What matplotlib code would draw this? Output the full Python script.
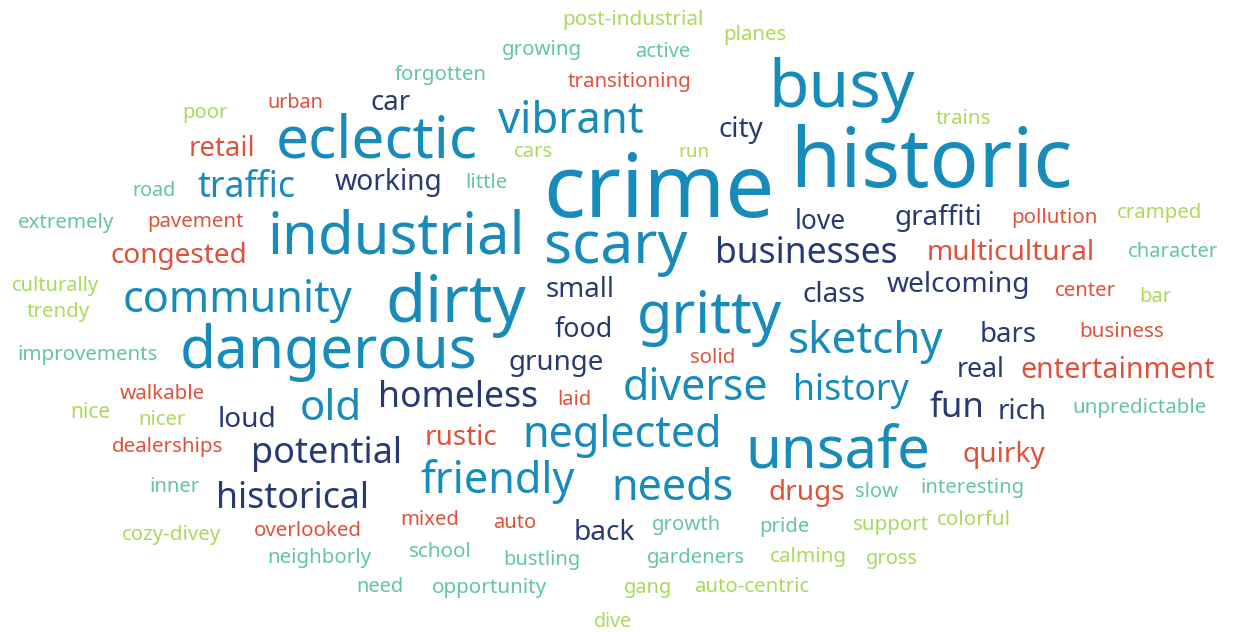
import matplotlib
matplotlib.use("Agg")
import matplotlib.pyplot as plt

plt.rcParams['font.family'] = ['Noto Sans', 'DejaVu Sans']

# words and their colour group
words = [
    "post-industrial", "planes", "growing", "active", "forgotten", "transitioning", "busy",
    "poor", "urban", "car", "trains", "vibrant", "eclectic", "retail", "city", "historic",
    "cars", "run", "crime", "road", "traffic", "working", "little", "extremely", "pavement",
    "industrial", "scary", "love", "graffiti", "pollution", "cramped", "congested",
    "businesses", "multicultural", "character", "culturally", "community", "dirty", "small",
    "gritty", "class", "welcoming", "center", "bar", "trendy", "dangerous", "food", "sketchy",
    "bars", "business", "improvements", "grunge", "solid", "real", "entertainment",
    "walkable", "old", "homeless", "laid", "diverse", "history", "fun", "rich",
    "unpredictable", "nice", "nicer", "loud", "dealerships", "potential", "rustic",
    "neglected", "unsafe", "quirky", "inner", "historical", "friendly", "needs", "drugs",
    "slow", "interesting", "cozy-divey", "overlooked", "mixed", "auto", "back", "growth",
    "pride", "support", "colorful", "neighborly", "school", "bustling", "gardeners",
    "calming", "gross", "need", "opportunity", "gang", "auto-centric", "dive",
]
groups = [
    "g", "g", "t", "t", "t", "r", "b",
    "g", "r", "n", "g", "b", "b", "r", "n", "b",
    "g", "g", "b", "t", "b", "n", "t", "t", "r",
    "b", "b", "n", "n", "r", "g", "r",
    "n", "r", "t", "g", "b", "b", "n",
    "b", "n", "n", "r", "g", "g", "b", "n", "b",
    "n", "r", "t", "n", "r", "n", "r",
    "r", "b", "n", "r", "b", "b", "n", "n",
    "t", "g", "g", "n", "r", "n", "r",
    "b", "b", "r", "t", "n", "b", "b", "r",
    "t", "t", "g", "r", "r", "r", "n", "t",
    "t", "g", "g", "t", "t", "t", "t",
    "g", "g", "t", "t", "g", "g", "g",
]

# layout of the cloud (pixel box of each word: left, right, baseline)
x_left = [
    562, 723, 502, 635, 395, 568, 768,
    182, 267, 371, 936, 498, 276, 189, 719, 790,
    514, 678, 543, 132, 197, 335, 465, 18, 147,
    267, 544, 795, 895, 1011, 1117, 110,
    715, 927, 1128, 12, 123, 385, 546,
    637, 803, 887, 1055, 1139, 27, 180, 555, 788,
    980, 1079, 17, 509, 690, 957, 1020,
    120, 300, 378, 557, 623, 793, 929, 998,
    1072, 70, 138, 218, 112, 251, 425,
    522, 745, 963, 149, 216, 420, 611, 769,
    855, 920, 122, 254, 400, 493, 574, 652,
    759, 853, 937, 267, 409, 503, 647,
    770, 866, 356, 432, 624, 694, 594,
]
x_right = [
    703, 786, 582, 690, 487, 691, 915,
    227, 323, 411, 991, 643, 478, 256, 764, 1072,
    553, 709, 775, 175, 295, 443, 507, 115, 243,
    525, 687, 846, 983, 1097, 1202, 247,
    898, 1096, 1218, 99, 353, 526, 615,
    783, 866, 1031, 1116, 1171, 90, 478, 613, 943,
    1037, 1164, 157, 605, 735, 1005, 1214,
    205, 362, 538, 591, 769, 909, 984, 1047,
    1206, 110, 185, 277, 223, 402, 498,
    722, 930, 1046, 199, 369, 575, 733, 846,
    898, 1024, 221, 362, 459, 536, 635, 721,
    809, 929, 1011, 371, 472, 580, 745,
    847, 918, 403, 547, 672, 809, 632,
]
baseline = [
    25, 40, 55, 57, 80, 87, 107,
    118, 108, 110, 124, 133, 157, 156, 137, 187,
    157, 157, 217, 196, 197, 190, 188, 228, 227,
    253, 263, 229, 225, 223, 218, 263,
    263, 260, 257, 291, 312, 322, 297,
    333, 302, 292, 296, 302, 317, 368, 337, 353,
    342, 337, 360, 370, 363, 377, 378,
    399, 420, 407, 405, 400, 400, 417, 419,
    413, 418, 425, 427, 452, 463, 445,
    447, 467, 462, 492, 508, 493, 500, 500,
    497, 493, 540, 536, 525, 528, 540, 530,
    532, 530, 525, 563, 557, 565, 563,
    562, 564, 592, 593, 593, 592, 627,
]

palette = {
    "b": "#178cbb",   # teal blue
    "n": "#283a74",   # navy
    "r": "#e0513a",   # red
    "g": "#abd95c",   # lime green
    "t": "#63c4a6",   # turquoise
}

W, H = 1233, 632
fig = plt.figure(figsize=(W / 100, H / 100), dpi=100)
ax = fig.add_axes([0, 0, 1, 1])
ax.set_xlim(0, W)
ax.set_ylim(H, 0)
ax.axis('off')

renderer = fig.canvas.get_renderer()
for w, g, x0, x1, yb in zip(words, groups, x_left, x_right, baseline):
    t = ax.text(x0, yb, w, fontsize=10, color=palette[g], ha='left', va='baseline')
    # scale the font so the word fills its box
    wpx = t.get_window_extent(renderer).width
    t.set_fontsize(10 * (x1 - x0) / wpx)

fig.savefig("out.png", dpi=100, facecolor='white')
